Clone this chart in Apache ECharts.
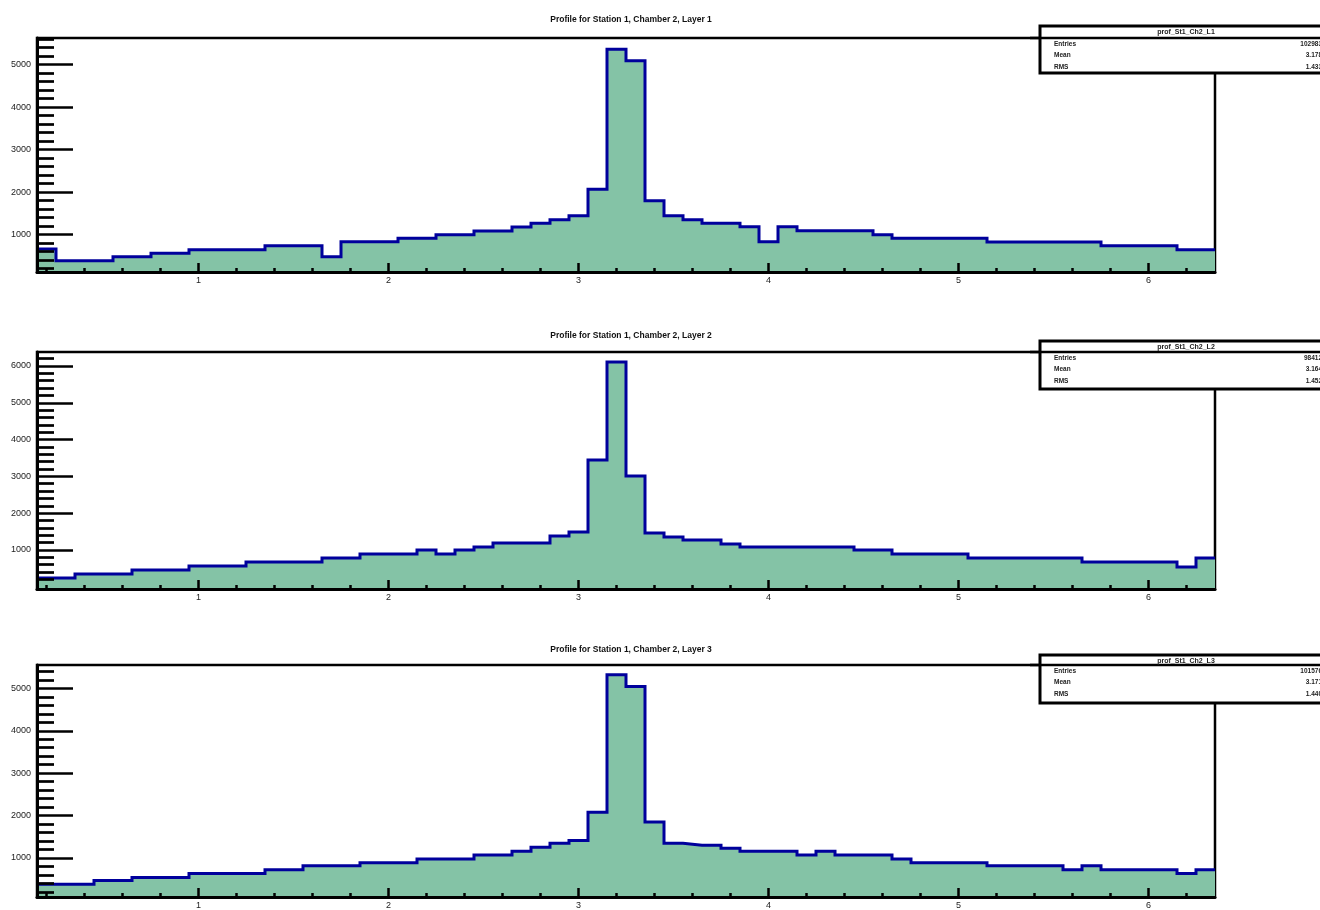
<!DOCTYPE html>
<html>
<head>
<meta charset="utf-8">
<script src="https://cdn.jsdelivr.net/npm/echarts@6/dist/echarts.min.js"></script>
<style>
  html, body { margin: 0; padding: 0; background: #ffffff; }
  #chart { width: 1320px; height: 910px; }
</style>
</head>
<body>
<div id="chart"></div>
<script>
// Binning shared by the three layer profiles: 62 bins of equal width
const binLow = 0.15;
const binWidth = 0.1;

// Bin contents, layer by layer
const layer1 = [663, 388, 388, 388, 482, 482, 562, 562, 647, 647, 647, 647, 741, 741, 741, 482,
  835, 835, 835, 915, 915, 1000, 1000, 1087, 1087, 1181, 1268, 1353, 1447, 2068, 5362, 5094,
  1800, 1447, 1353, 1268, 1268, 1188, 835, 1188, 1094, 1094, 1094, 1094, 1000, 915, 915, 915,
  915, 915, 828, 828, 828, 828, 828, 828, 741, 741, 741, 741, 647, 647];
const layer2 = [239, 239, 348, 348, 348, 457, 457, 457, 565, 565, 565, 674, 674, 674, 674, 783,
  783, 891, 891, 891, 1000, 891, 1000, 1082, 1190, 1190, 1190, 1380, 1489, 3446, 6109, 3011,
  1462, 1353, 1272, 1272, 1163, 1082, 1082, 1082, 1082, 1082, 1082, 1000, 1000, 891, 891, 891,
  891, 783, 783, 783, 783, 783, 783, 674, 674, 674, 674, 674, 538, 783];
const layer3 = [379, 379, 379, 471, 471, 540, 540, 540, 632, 632, 632, 632, 724, 724, 816, 816,
  816, 885, 885, 885, 977, 977, 977, 1069, 1069, 1161, 1253, 1345, 1414, 2080, 5322, 5046,
  1851, 1345, 1299, 1299, 1230, 1161, 1161, 1161, 1069, 1161, 1069, 1069, 1069, 977, 885, 885,
  885, 885, 816, 816, 816, 816, 724, 816, 724, 724, 724, 724, 632, 724];

// Text
const titles = [
  'Profile for Station 1, Chamber 2, Layer 1',
  'Profile for Station 1, Chamber 2, Layer 2',
  'Profile for Station 1, Chamber 2, Layer 3'
];
const statsNames = ['prof_St1_Ch2_L1', 'prof_St1_Ch2_L2', 'prof_St1_Ch2_L3'];
const statsLabels = ['Entries', 'Mean', 'RMS'];
const statsEntries = ['102983', '98412', '101576'];
const statsMean = ['3.178', '3.164', '3.171'];
const statsRMS = ['1.433', '1.452', '1.440'];

// Axis ticks and labels
const xMajorTicks = [1, 2, 3, 4, 5, 6];
const yMajorTicks = [
  [1000, 2000, 3000, 4000, 5000],
  [1000, 2000, 3000, 4000, 5000, 6000],
  [1000, 2000, 3000, 4000, 5000]
];
const yRanges = [[122, 5628], [-60, 6380], [80, 5551]];

// Pad geometry (pixels)
const pads = [
  { top: 38, height: 234, titleY: 10, boxTop: 26, boxH: 47, sep: 38 },
  { top: 352, height: 237, titleY: 326, boxTop: 341, boxH: 48, sep: 352 },
  { top: 665, height: 238, titleY: 640, boxTop: 655, boxH: 48, sep: 665 }
];
const padLeft = 37, padWidth = 1178;
const nBins = layer1.length;
const xMax = binLow + nBins * binWidth;
const layers = [layer1, layer2, layer3];

const lineColor = '#00009c';
const fillColor = '#84c3a6';
const font = 'Liberation Sans, Arial, sans-serif';

// Outline points of a histogram: each bin contributes its two edges at its height
function stepPoints(values) {
  const pts = [];
  values.forEach((v, i) => {
    pts.push([binLow + i * binWidth, v]);
    pts.push([binLow + (i + 1) * binWidth, v]);
  });
  return pts;
}

function range(from, to, step) {
  const out = [];
  for (let v = from; v <= to + 1e-9; v += step) out.push(Math.round(v * 1000) / 1000);
  return out;
}

const xMinorTicks = range(0.2, 6.2, 0.2).filter(v => Math.abs(v - Math.round(v)) > 1e-6);

const grid = [], xAxis = [], yAxis = [], series = [], title = [], graphic = [];

pads.forEach((p, k) => {
  grid.push({
    left: padLeft, top: p.top, width: padWidth, height: p.height,
    show: true, borderColor: '#000', borderWidth: 2.5, backgroundColor: 'transparent'
  });

  // x axis: labelled major ticks + separate minor ticks
  xAxis.push({
    gridIndex: k, type: 'value', position: 'bottom', min: binLow, max: xMax, z: 5,
    axisLine: { show: true, onZero: false, lineStyle: { color: '#000', width: 3 } },
    axisTick: { show: true, inside: true, length: 9, customValues: xMajorTicks,
      lineStyle: { color: '#000', width: 2.5 } },
    axisLabel: { show: true, customValues: xMajorTicks, margin: 4, fontSize: 9,
      fontFamily: font, color: '#222' },
    splitLine: { show: false }
  });
  xAxis.push({
    gridIndex: k, type: 'value', position: 'bottom', offset: 0, min: binLow, max: xMax, z: 5,
    axisLine: { show: false, onZero: false },
    axisTick: { show: true, inside: true, length: 4, customValues: xMinorTicks,
      lineStyle: { color: '#000', width: 2.5 } },
    axisLabel: { show: false },
    splitLine: { show: false }
  });

  const [yMin, yMax] = yRanges[k];
  const yMinor = range(Math.ceil(yMin / 200) * 200, yMax, 200).filter(v => v % 1000 !== 0);
  yAxis.push({
    gridIndex: k, type: 'value', position: 'left', min: yMin, max: yMax, z: 5,
    axisLine: { show: true, onZero: false, lineStyle: { color: '#000', width: 3 } },
    axisTick: { show: true, inside: true, length: 36, customValues: yMajorTicks[k],
      lineStyle: { color: '#000', width: 2.7 } },
    axisLabel: { show: true, customValues: yMajorTicks[k], margin: 6, fontSize: 9,
      fontFamily: font, color: '#222', formatter: v => String(v) },
    splitLine: { show: false }
  });
  yAxis.push({
    gridIndex: k, type: 'value', position: 'left', offset: 0, min: yMin, max: yMax, z: 5,
    axisLine: { show: false, onZero: false },
    axisTick: { show: true, inside: true, length: 17, customValues: yMinor,
      lineStyle: { color: '#000', width: 2.7 } },
    axisLabel: { show: false },
    splitLine: { show: false }
  });

  series.push({
    type: 'line', xAxisIndex: 2 * k, yAxisIndex: 2 * k,
    data: stepPoints(layers[k]),
    symbol: 'none', animation: false, silent: true,
    lineStyle: { color: lineColor, width: 3, join: 'miter', cap: 'butt' },
    areaStyle: { color: fillColor, opacity: 1, origin: 'start' },
    z: 2
  });

  title.push({
    text: titles[k], left: 626, top: p.titleY, textAlign: 'center',
    textStyle: { fontSize: 8.5, fontWeight: 'bold', fontFamily: font, color: '#111' }
  });

  // statistics box
  const bx = 1040, by = p.boxTop;
  graphic.push({
    type: 'group', z: 100,
    children: [
      { type: 'rect', shape: { x: bx, y: by, width: 300, height: p.boxH },
        style: { fill: '#fff', stroke: '#000', lineWidth: 3 } },
      { type: 'line', shape: { x1: bx - 10, y1: p.sep, x2: 1330, y2: p.sep },
        style: { stroke: '#000', lineWidth: 2.5 } },
      { type: 'text', x: 1186, y: by + 6,
        style: { text: statsNames[k], fontSize: 7, fontWeight: 'bold', fontFamily: font,
          fill: '#222', align: 'center', verticalAlign: 'middle' } },
      ...statsLabels.map((lab, j) => ({
        type: 'text', x: 1054, y: p.sep + 6 + j * 11.5,
        style: { text: lab, fontSize: 6.5, fontWeight: 'bold', fontFamily: font,
          fill: '#222', align: 'left', verticalAlign: 'middle' }
      })),
      ...[statsEntries[k], statsMean[k], statsRMS[k]].map((val, j) => ({
        type: 'text', x: 1322, y: p.sep + 6 + j * 11.5,
        style: { text: val, fontSize: 6.5, fontWeight: 'bold', fontFamily: font,
          fill: '#222', align: 'right', verticalAlign: 'middle' }
      }))
    ]
  });
});

const chart = echarts.init(document.getElementById('chart'), null, { renderer: 'canvas' });
chart.setOption({
  backgroundColor: '#ffffff',
  animation: false,
  title, grid, xAxis, yAxis, series, graphic
});
</script>
</body>
</html>
